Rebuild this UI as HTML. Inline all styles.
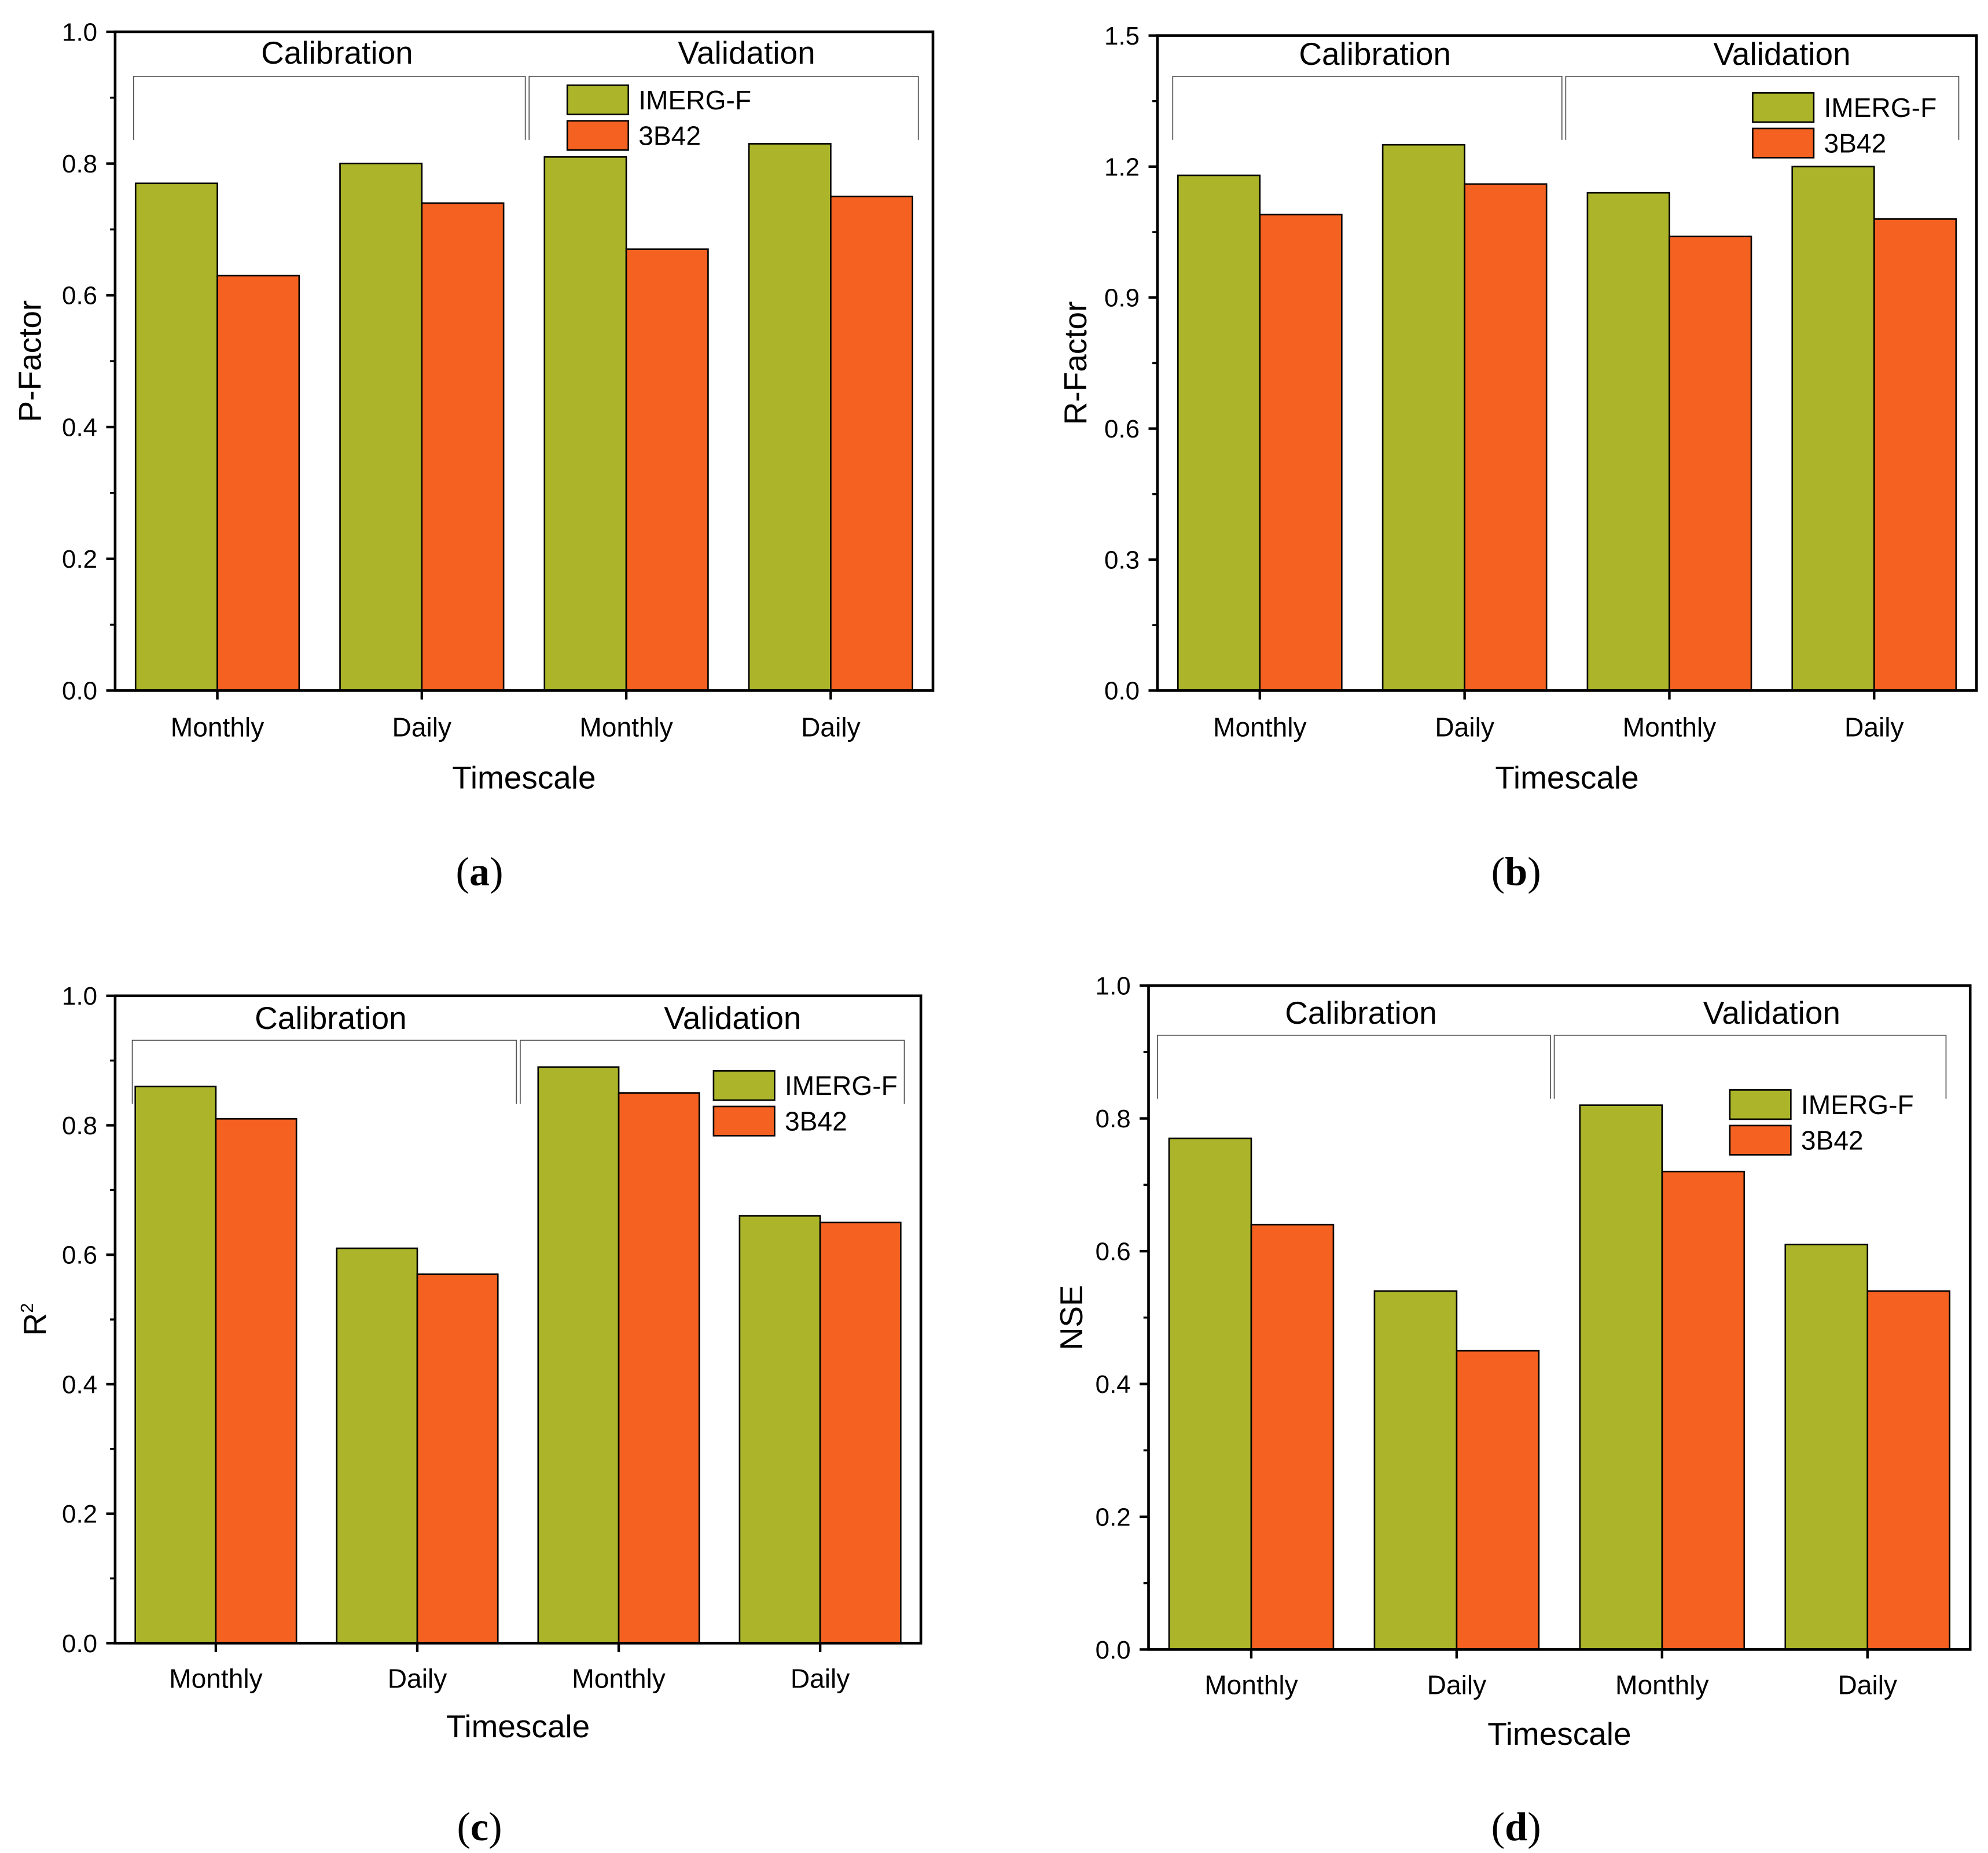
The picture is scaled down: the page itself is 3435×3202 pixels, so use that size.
<!DOCTYPE html>
<html><head><meta charset="utf-8"><style>
html,body{margin:0;padding:0;background:#fff;}
svg{display:block;}
text{font-family:"Liberation Sans",Arial,sans-serif;fill:#000;}
</style></head><body>
<svg id="fig" width="3435" height="3202" viewBox="0 0 1563 1457" xmlns="http://www.w3.org/2000/svg"></svg>
<script>
const categories = ["Monthly","Daily","Monthly","Daily"];
const seriesNames = ["IMERG-F","3B42"];
const pImerg = [0.77,0.80,0.81,0.83];
const p3b42 = [0.63,0.74,0.67,0.75];
const rImerg = [1.18,1.25,1.14,1.20];
const r3b42 = [1.09,1.16,1.04,1.08];
const r2Imerg = [0.86,0.61,0.89,0.66];
const r23b42 = [0.81,0.57,0.85,0.65];
const nseImerg = [0.77,0.54,0.82,0.61];
const nse3b42 = [0.64,0.45,0.72,0.54];
const ticksA = ["0.0","0.2","0.4","0.6","0.8","1.0"];
const ticksB = ["0.0","0.3","0.6","0.9","1.2","1.5"];

const NS="http://www.w3.org/2000/svg";
const svg=document.getElementById('fig');
function mk(tag,attrs,parent,txt){const e=document.createElementNS(NS,tag);for(const k in attrs)e.setAttribute(k,attrs[k]);if(txt!==undefined)e.textContent=txt;(parent||svg).appendChild(e);return e;}
const COLORS=["#acb52a","#f46121"];

const panels=[
 {id:'a',x0:90.5,x1:733.5,y0:25,y1:543,max:1.0,ticks:ticksA,s1:pImerg,s2:p3b42,ylab:'P-Factor',ylx:24,
  brY:60,brB:110,cal:[105,413],val:[416,722],labX:[265,587],labY:50,leg:[446,67],catY:579,tsY:620,tag:[377,696]},
 {id:'b',x0:910,x1:1554,y0:28,y1:543,max:1.5,ticks:ticksB,s1:rImerg,s2:r3b42,ylab:'R-Factor',ylx:846,
  brY:60,brB:110,cal:[922,1228],val:[1231,1540],labX:[1081,1401],labY:51,leg:[1378,73],catY:579,tsY:620,tag:[1192,696]},
 {id:'c',x0:90.5,x1:724,y0:783,y1:1292,max:1.0,ticks:ticksA,s1:r2Imerg,s2:r23b42,ylab:'R2',ylx:28,
  brY:818,brB:868,cal:[104,406],val:[409,711],labX:[260,576],labY:809,leg:[561,842],catY:1327,tsY:1366,tag:[377,1447]},
 {id:'d',x0:903,x1:1549,y0:775,y1:1297,max:1.0,ticks:ticksA,s1:nseImerg,s2:nse3b42,ylab:'NSE',ylx:843,
  brY:814,brB:864,cal:[910,1219],val:[1222,1530],labX:[1070,1393],labY:805,leg:[1360,857],catY:1332,tsY:1372,tag:[1192,1447]}
];

panels.forEach(p=>{
  const g=mk('g',{});
  
  
  const ys=v=>p.y1-(v/p.max)*(p.y1-p.y0);
  const gw=(p.x1-p.x0)/categories.length;
  const bw=gw*0.4;
  const gc=i=>p.x0+gw*i+gw/2;
  [p.s1,p.s2].forEach((ser,si)=>{
    ser.forEach((v,i)=>{
      const x=gc(i)-bw+si*bw;
      const r=mk('rect',{x:x,y:ys(v),width:bw,height:p.y1-ys(v),fill:COLORS[si],stroke:'#000','stroke-width':1.2},g);
      
      
    });
  });
  const fr=mk('rect',{x:p.x0,y:p.y0,width:p.x1-p.x0,height:p.y1-p.y0,fill:'none',stroke:'#000','stroke-width':2.1},g);
  
  
  const n=p.ticks.length-1;
  for(let k=0;k<=n;k++){
    const v=p.max*k/n, y=ys(v);
    mk('line',{x1:p.x0-7,x2:p.x0,y1:y,y2:y,stroke:'#000','stroke-width':2},g);
    const t=mk('text',{x:p.x0-14,y:y+7,'text-anchor':'end','font-size':20},g,p.ticks[k]);
    
    
    if(k<n){const ym=ys(v+p.max/n/2);mk('line',{x1:p.x0-4,x2:p.x0,y1:ym,y2:ym,stroke:'#000','stroke-width':1.6},g);}
  }
  categories.forEach((c,i)=>{
    mk('line',{x1:gc(i),x2:gc(i),y1:p.y1,y2:p.y1+7,stroke:'#000','stroke-width':2},g);
    const t=mk('text',{x:gc(i),y:p.catY,'text-anchor':'middle','font-size':21},g,c);
    
    
  });
  [[p.cal,'Calibration',p.labX[0]],[p.val,'Validation',p.labX[1]]].forEach(([r,lab,lx])=>{
    const pl=mk('polyline',{points:`${r[0]},${p.brB} ${r[0]},${p.brY} ${r[1]},${p.brY} ${r[1]},${p.brB}`,fill:'none',stroke:'#555','stroke-width':0.8},g);
    
    
    const t=mk('text',{x:lx,y:p.labY,'text-anchor':'middle','font-size':25},g,lab);
    
    
  });
  seriesNames.forEach((s,si)=>{
    const lx=p.leg[0], ly=p.leg[1]+si*28;
    const r=mk('rect',{x:lx,y:ly,width:48,height:23,fill:COLORS[si],stroke:'#000','stroke-width':1.2},g);
    
    
    const t=mk('text',{x:lx+56,y:ly+19,'font-size':21},g,s);
    
    
  });
  const cy=(p.y0+p.y1)/2;
  const yt=mk('text',{x:p.ylx,y:cy,'text-anchor':'middle','font-size':25,transform:`rotate(-90 ${p.ylx} ${cy})`,dy:8},g);
  
  
  if(p.ylab==='R2'){yt.textContent='R';mk('tspan',{'font-size':14,dy:-10},yt,'2');}
  else yt.textContent=p.ylab;
  const xt=mk('text',{x:(p.x0+p.x1)/2,y:p.tsY,'text-anchor':'middle','font-size':25},g,'Timescale');
  
  
  const tg=mk('text',{x:p.tag[0],y:p.tag[1],'text-anchor':'middle','font-size':32,style:'font-family:"Liberation Serif",serif'},g);
  
  
  mk('tspan',{},tg,'(');
  mk('tspan',{'font-weight':'bold'},tg,p.id);
  mk('tspan',{},tg,')');
});
</script>
</body></html>
